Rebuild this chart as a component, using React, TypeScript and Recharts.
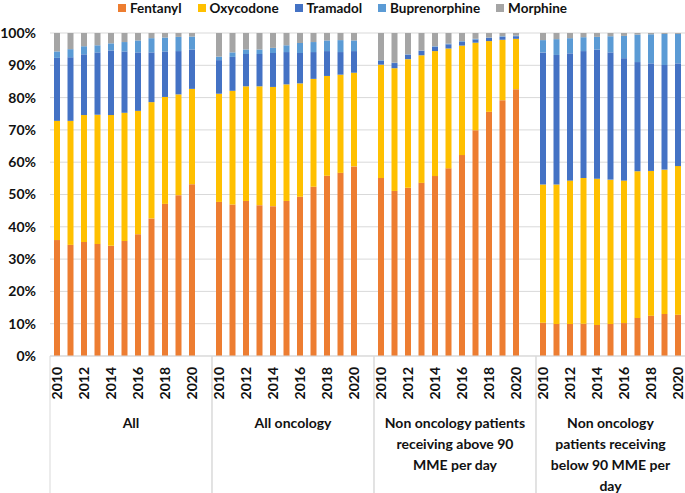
import React from "react";
import { BarChart, Bar, XAxis, YAxis, CartesianGrid, Legend } from "recharts";

const YEARS = ["2010", "2011", "2012", "2013", "2014", "2015", "2016", "2017", "2018", "2019", "2020"];
const GROUPS = ["All", "All oncology", "Non oncology above 90", "Non oncology below 90"];
const GROUP_LINES = [
  ["All"],
  ["All oncology"],
  ["Non oncology patients", "receiving above 90", "MME per day"],
  ["Non oncology", "patients receiving", "below 90 MME per", "day"],
];
const DRUGS = ["Fentanyl", "Oxycodone", "Tramadol", "Buprenorphine", "Morphine"];
const COLORS = ["#ED7D31", "#FFC000", "#4472C4", "#5B9BD5", "#A5A5A5"];

// one row of 11 years per group: All, All oncology, >90 MME, <90 MME
const FENTANYL = [
  35.9, 34.4, 35.3, 34.7, 34.1, 35.6, 37.7, 42.6, 47.1, 49.8, 53.2,
  47.7, 46.9, 48.0, 46.7, 46.4, 48.0, 49.3, 52.4, 55.8, 56.7, 58.7,
  55.1, 51.1, 52.1, 53.6, 55.7, 58.1, 62.2, 69.9, 75.6, 79.2, 82.6,
  10.3, 9.9, 9.9, 10.0, 9.6, 9.9, 10.2, 11.8, 12.5, 13.0, 12.8,
];
const OXYCODONE = [
  36.9, 38.4, 39.3, 40.0, 40.5, 39.7, 38.2, 36.0, 33.1, 31.2, 29.5,
  33.5, 35.2, 35.5, 36.8, 36.9, 36.1, 35.1, 33.4, 30.9, 30.4, 29.0,
  35.1, 38.0, 39.8, 39.5, 38.7, 37.1, 33.9, 27.1, 21.9, 18.7, 15.6,
  42.8, 43.2, 44.4, 45.1, 45.3, 44.7, 44.1, 45.4, 44.8, 44.7, 46.0,
];
const TRAMADOL = [
  19.5, 19.7, 18.8, 19.3, 20.0, 19.0, 18.1, 15.4, 14.1, 13.4, 12.2,
  10.4, 10.5, 10.0, 10.0, 10.5, 10.0, 9.4, 8.3, 7.7, 7.0, 6.7,
  1.2, 1.6, 1.4, 1.4, 1.3, 1.3, 1.2, 1.0, 1.0, 0.9, 0.8,
  40.9, 40.1, 39.4, 39.3, 40.0, 39.4, 37.9, 33.8, 33.3, 32.4, 31.8,
];
const BUPRENORPHINE = [
  2.0, 2.5, 2.5, 2.2, 2.2, 2.9, 3.7, 4.4, 4.3, 4.4, 4.0,
  1.1, 1.4, 1.4, 1.4, 1.6, 2.1, 3.1, 3.1, 3.3, 3.7, 3.3,
  0.2, 0.1, 0.1, 0.1, 0.2, 0.2, 0.2, 0.2, 0.1, 0.2, 0.2,
  3.8, 4.9, 4.7, 4.3, 3.9, 5.0, 6.9, 8.5, 9.0, 9.6, 9.1,
];
const MORPHINE = [
  5.7, 5.0, 4.1, 3.8, 3.2, 2.8, 2.3, 1.6, 1.4, 1.2, 1.1,
  7.3, 6.0, 5.1, 5.1, 4.6, 3.8, 3.1, 2.8, 2.3, 2.2, 2.3,
  8.4, 9.2, 6.6, 5.4, 4.1, 3.3, 2.5, 1.8, 1.4, 1.0, 0.8,
  2.2, 1.9, 1.6, 1.3, 1.2, 1.0, 0.9, 0.5, 0.4, 0.3, 0.3,
];
const SERIES = [FENTANYL, OXYCODONE, TRAMADOL, BUPRENORPHINE, MORPHINE];
const Y_TICKS = [0, 0.1, 0.2, 0.3, 0.4, 0.5, 0.6, 0.7, 0.8, 0.9, 1];

const FONT = "Lato, 'Open Sans', sans-serif";
const INK = "#111";
const VIEW_W = 685;
const VIEW_H = 493;
const CHART_W = 700;
const PLOT_W = 648;
const YEAR_AXIS_H = 46;
const GROUP_AXIS_H = 91;

// 11 years then one empty slot per group
const data: any[] = [];
GROUPS.forEach((group, g) => {
  YEARS.forEach((year, i) => {
    const row: any = { year, group };
    DRUGS.forEach((d, k) => (row[d] = SERIES[k][g * 11 + i]));
    data.push(row);
  });
  data.push({ year: "", group });
});

const YearTick = (props: any) => {
  const { x, y, payload } = props;
  const v = String(payload.value);
  if (!v || Number(v) % 2 !== 0) return <g />;
  const ty = y + 11;
  return (
    <text
      x={x}
      y={ty}
      dy="0.36em"
      transform={`rotate(-90 ${x} ${ty})`}
      textAnchor="end"
      fontFamily={FONT}
      fontWeight={700}
      fontSize={14}
      fill={INK}
    >
      {v}
    </text>
  );
};

const GroupTick = (props: any) => {
  const { x, y, payload } = props;
  const half = payload.offset || PLOT_W / 8;
  const left = x - half;
  const right = x + half;
  const cx = (left + Math.min(right, VIEW_W)) / 2;
  const lines = GROUP_LINES[GROUPS.indexOf(payload.value)] || [];
  return (
    <g>
      <line x1={left} x2={left} y1={y - YEAR_AXIS_H} y2={y + GROUP_AXIS_H} stroke="#D9D9D9" />
      <line x1={right} x2={right} y1={y - YEAR_AXIS_H} y2={y + GROUP_AXIS_H} stroke="#D9D9D9" />
      <text x={cx} y={y + 26} textAnchor="middle" fontFamily={FONT} fontWeight={700} fontSize={14} fill={INK}>
        {lines.map((l, i) => (
          <tspan key={i} x={cx} dy={i === 0 ? 0 : 21}>
            {l}
          </tspan>
        ))}
      </text>
    </g>
  );
};

const renderLegend = () => (
  <div
    style={{
      display: "flex",
      justifyContent: "center",
      alignItems: "center",
      gap: 16,
      height: 16,
      fontFamily: FONT,
      fontWeight: 700,
      fontSize: 13.5,
      color: INK,
    }}
  >
    {DRUGS.map((d, i) => (
      <span key={d} style={{ display: "flex", alignItems: "center" }}>
        <span style={{ width: 8, height: 8, background: COLORS[i], marginRight: 4 }} />
        {d}
      </span>
    ))}
  </div>
);

export default function App() {
  return (
    <div
      style={{
        position: "absolute",
        left: 0,
        top: 0,
        width: VIEW_W,
        height: VIEW_H,
        overflow: "hidden",
        background: "#fff",
      }}
    >
      <BarChart
        width={CHART_W}
        height={VIEW_H}
        data={data}
        stackOffset="expand"
        margin={{ top: 17, right: 2, bottom: 0, left: 0 }}
        barSize={6}
      >
        <Legend
          verticalAlign="top"
          content={renderLegend}
          wrapperStyle={{ left: 0, top: 0, width: VIEW_W }}
        />
        <CartesianGrid xAxisId="a_year" vertical={false} stroke="#D9D9D9" />
        <XAxis
          xAxisId="a_year"
          dataKey="year"
          interval={0}
          height={YEAR_AXIS_H}
          tickSize={0}
          tickMargin={0}
          tickLine={false}
          axisLine={{ stroke: "#D9D9D9" }}
          tick={YearTick}
        />
        <XAxis
          xAxisId="b_group"
          dataKey="group"
          allowDuplicatedCategory={false}
          interval={0}
          height={GROUP_AXIS_H}
          tickSize={0}
          tickMargin={0}
          tickLine={false}
          axisLine={false}
          tick={GroupTick}
        />
        <YAxis
          width={50}
          domain={[0, 1]}
          ticks={Y_TICKS}
          tickSize={0}
          tickMargin={14}
          tickLine={false}
          axisLine={false}
          tickFormatter={(v: number) => `${Math.round(v * 100)}%`}
          tick={{ fontFamily: FONT, fontWeight: 700, fontSize: 14, fill: INK }}
        />
        {DRUGS.map((d, k) => (
          <Bar key={d} xAxisId="a_year" dataKey={d} stackId="a" fill={COLORS[k]} isAnimationActive={false} />
        ))}
      </BarChart>
    </div>
  );
}
